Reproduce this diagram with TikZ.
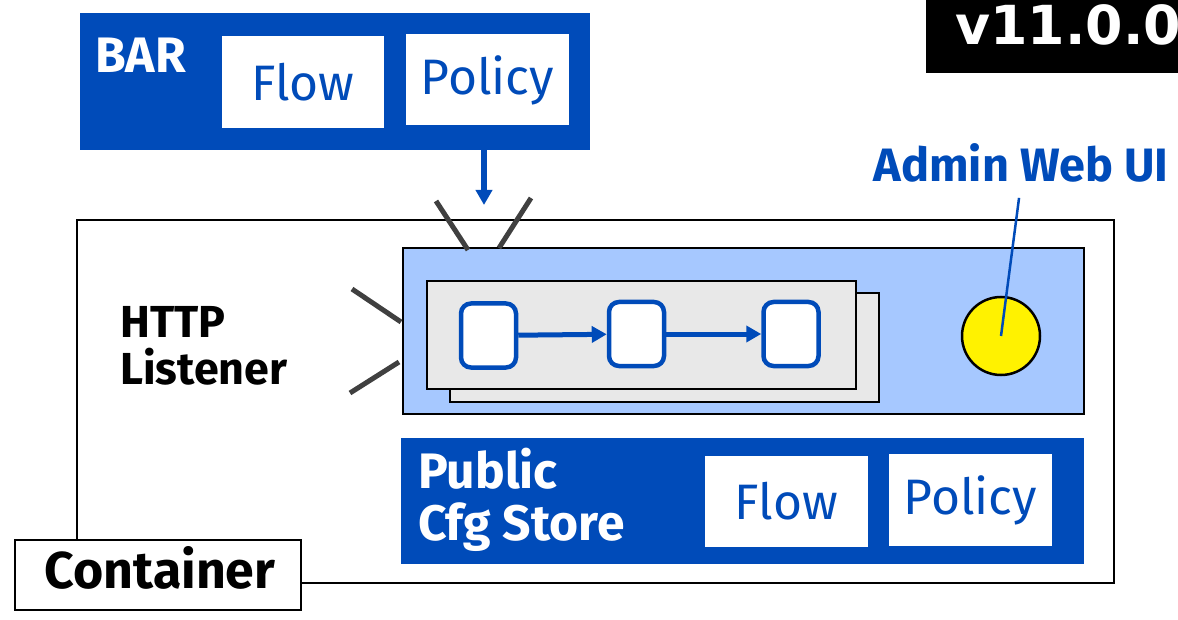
\documentclass[tikz,border=0pt]{standalone}
\usepackage{fontspec}
\setmainfont{Fira Sans}
\newfontfamily\verfont{DejaVu Sans}
\usetikzlibrary{arrows.meta}

\definecolor{barblue}{RGB}{0,75,185}
\definecolor{srvblue}{RGB}{166,200,255}
\definecolor{cardgray}{RGB}{232,232,232}
\definecolor{raygray}{RGB}{64,64,64}

\begin{document}
\begin{tikzpicture}[x=1bp,y=-1bp,>={Triangle[length=15bp,width=16bp]},
	bluebox/.style={fill=barblue,inner sep=0},
	whitecard/.style={fill=white,inner sep=0,text=barblue,font=\fontsize{50}{56}\selectfont},
	graycard/.style={draw=black,line width=2.5bp,fill=cardgray,inner sep=0},
	stepbox/.style={draw=barblue,line width=4.5bp,fill=white,rounded corners=10bp,inner sep=0,minimum width=55bp,minimum height=64bp},
	ray/.style={draw=raygray,line width=5bp},
	flowarrow/.style={->,draw=barblue,fill=barblue,line width=5bp},
	boldlbl/.style={inner sep=0,font=\bfseries\fontsize{50}{56}\selectfont}]
	\useasboundingbox (0,0) rectangle (1178,620);
	%%
	\node (ver) at (1052,36.5) [fill=black,inner sep=0,minimum width=252bp,minimum height=73bp] {};
	  \node (vertxt) at (955,45) [boldlbl,anchor=base west,text=white,font=\verfont\bfseries\fontsize{54}{60}\selectfont] {v11.0.0};
	%%
	\node (bar) at (335,81.5) [bluebox,minimum width=510bp,minimum height=137bp] {};
	  \node (bartxt) at (95,73) [boldlbl,anchor=base west,text=white] {BAR};
	  \node (barflow) at (303,82) [whitecard,minimum width=162bp,minimum height=92bp] {Flow};
	  \node (barpol) at (487.5,80) [whitecard,minimum width=163bp,minimum height=91bp] {Policy};
	  \coordinate (deploy) at (484,205);
	%%
	\node (cont) at (595.5,401.5) [draw=black,line width=2.5bp,inner sep=0,minimum width=1037bp,minimum height=363bp] {};
	  \node (srv) at (743.5,331) [draw=black,line width=2.5bp,fill=srvblue,inner sep=0,minimum width=681bp,minimum height=166bp] {};
	  \node (cardb) at (664.5,347.5) [graycard,minimum width=429bp,minimum height=109bp] {};
	  \node (cardf) at (641.5,335) [graycard,minimum width=429bp,minimum height=108bp] {};
	  \node (s1) at (488.5,335.5) [stepbox] {};
	  \node (s2) at (636.5,334) [stepbox] {};
	  \node (s3) at (791,334) [stepbox] {};
	  \node (webui) at (1001,336) [draw=black,line width=2.5bp,fill=yellow,circle,inner sep=0,minimum size=78bp] {};
	  \node (admin) at (1021,182) [boldlbl,anchor=base,text=barblue,font=\bfseries\fontsize{47}{50}\selectfont] {Admin Web UI};
	%
	\node (http) at (120,338) [boldlbl,anchor=base west,font=\bfseries\fontsize{45}{50}\selectfont] {HTTP};
	  \node (listen) at (120,384) [boldlbl,anchor=base west,font=\bfseries\fontsize{45}{50}\selectfont] {Listener};
	  \coordinate (r1a) at (436,201);
	  \coordinate (r1b) at (468,250);
	  \coordinate (r2a) at (531,198);
	  \coordinate (r2b) at (499,248);
	  \coordinate (r3a) at (352,289);
	  \coordinate (r3b) at (401,322);
	  \coordinate (r4a) at (350,393);
	  \coordinate (r4b) at (399,362);
	%%
	\node (pcs) at (742.5,501) [bluebox,minimum width=683bp,minimum height=126bp] {};
	  \node (pcstxt1) at (418,488) [boldlbl,anchor=base west,text=white] {Public};
	  \node (pcstxt2) at (418,540) [boldlbl,anchor=base west,text=white] {Cfg Store};
	  \node (pcsflow) at (786.5,501.5) [whitecard,minimum width=163bp,minimum height=91bp] {Flow};
	  \node (pcspol) at (970.5,500) [whitecard,minimum width=163bp,minimum height=92bp] {Policy};
	%%
	\node (contlbl) at (158,575) [draw=black,line width=2.5bp,fill=white,inner sep=0,minimum width=286bp,minimum height=70bp] {};
	  \node (conttxt) at (160,588) [boldlbl,anchor=base,font=\bfseries\fontsize{52}{56}\selectfont] {Container};
	
	  \draw [flowarrow,line width=6bp] (deploy |- bar.south) -- (deploy);
	  \draw [flowarrow] (s1) -- (s2);
	  \draw [flowarrow] (s2) -- (s3);
	  \draw [draw=barblue,line width=2.5bp,shorten <=15bp] (admin.south) -- (webui.center);
	
	  \draw [ray] (r1a) -- (r1b);
	  \draw [ray] (r2a) -- (r2b);
	  \draw [ray] (r3a) -- (r3b);
	  \draw [ray] (r4a) -- (r4b);
	%
	\end{tikzpicture}
\end{document}
